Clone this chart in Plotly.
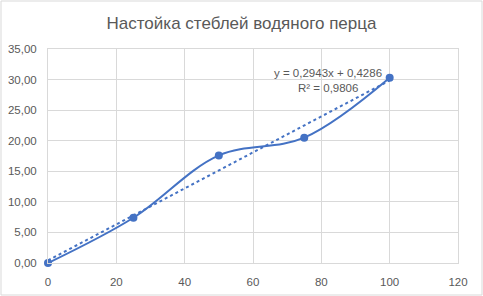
import numpy as np
import plotly.graph_objects as go

x_vals = [0, 25, 50, 75, 100]
y_vals = [0.0, 7.4, 17.6, 20.5, 30.3]
eq_text = "y = 0,2943x + 0,4286"
r2_text = "R² = 0,9806"
title_text = "Настойка стеблей водяного перца"
y_ticks = [0, 5, 10, 15, 20, 25, 30, 35]
y_tick_labels = ["0,00", "5,00", "10,00", "15,00", "20,00", "25,00", "30,00", "35,00"]
x_ticks = [0, 20, 40, 60, 80, 100, 120]

slope, intercept = 0.2943, 0.4286
trend_x = [0, 100]
trend_y = [slope * v + intercept for v in trend_x]

W, H = 483, 296
ml, mr, mt, mb = 48, 25, 49, 33
blue = "#4472C4"
grey = "#595959"
grid = "#D9D9D9"
font = "Liberation Sans, Arial, sans-serif"

fig = go.Figure()
fig.add_trace(go.Scatter(x=trend_x, y=trend_y, mode="lines",
                         line=dict(color=blue, width=2, dash="dot"),
                         hoverinfo="skip", showlegend=False))
fig.add_trace(go.Scatter(x=x_vals, y=y_vals, mode="lines+markers", cliponaxis=False,
                         line=dict(color=blue, width=2, shape="spline", smoothing=1.0),
                         marker=dict(color=blue, size=8),
                         showlegend=False))

fig.add_annotation(x=81.9, y=31.1, text=eq_text, showarrow=False,
                   font=dict(size=11.5, color=grey, family=font))
fig.add_annotation(x=81.9, y=28.6, text=r2_text, showarrow=False,
                   font=dict(size=11.5, color=grey, family=font))

pw, ph = W - ml - mr, H - mt - mb
fig.add_shape(type="rect", xref="paper", yref="paper",
              x0=-(ml - 1) / pw, x1=1 + (mr - 1) / pw,
              y0=-(mb - 1) / ph, y1=1 + (mt - 1) / ph,
              line=dict(color=grid, width=1), layer="below")

fig.update_layout(
    width=W, height=H,
    margin=dict(l=ml, r=mr, t=mt, b=mb, autoexpand=False),
    paper_bgcolor="white", plot_bgcolor="white",
    title=dict(text=title_text, x=0.5, xanchor="center", y=1 - 23 / H, yanchor="middle",
               font=dict(size=17, color=grey, family=font)),
    font=dict(family=font, size=11, color=grey),
    xaxis=dict(range=[0, 120], tickvals=x_ticks, showgrid=True, gridcolor=grid,
               zeroline=False, showline=True, mirror=True, linecolor=grid, automargin=False,
               ticks="", ticklabelstandoff=8, tickfont=dict(size=11.5, color=grey)),
    yaxis=dict(range=[0, 35], tickvals=y_ticks, ticktext=y_tick_labels, showgrid=True,
               gridcolor=grid, zeroline=False, showline=True, mirror=True, linecolor=grid,
               automargin=False,
               ticks="", ticklabelstandoff=8, tickfont=dict(size=11.5, color=grey)),
)

fig.write_html("out.html")
